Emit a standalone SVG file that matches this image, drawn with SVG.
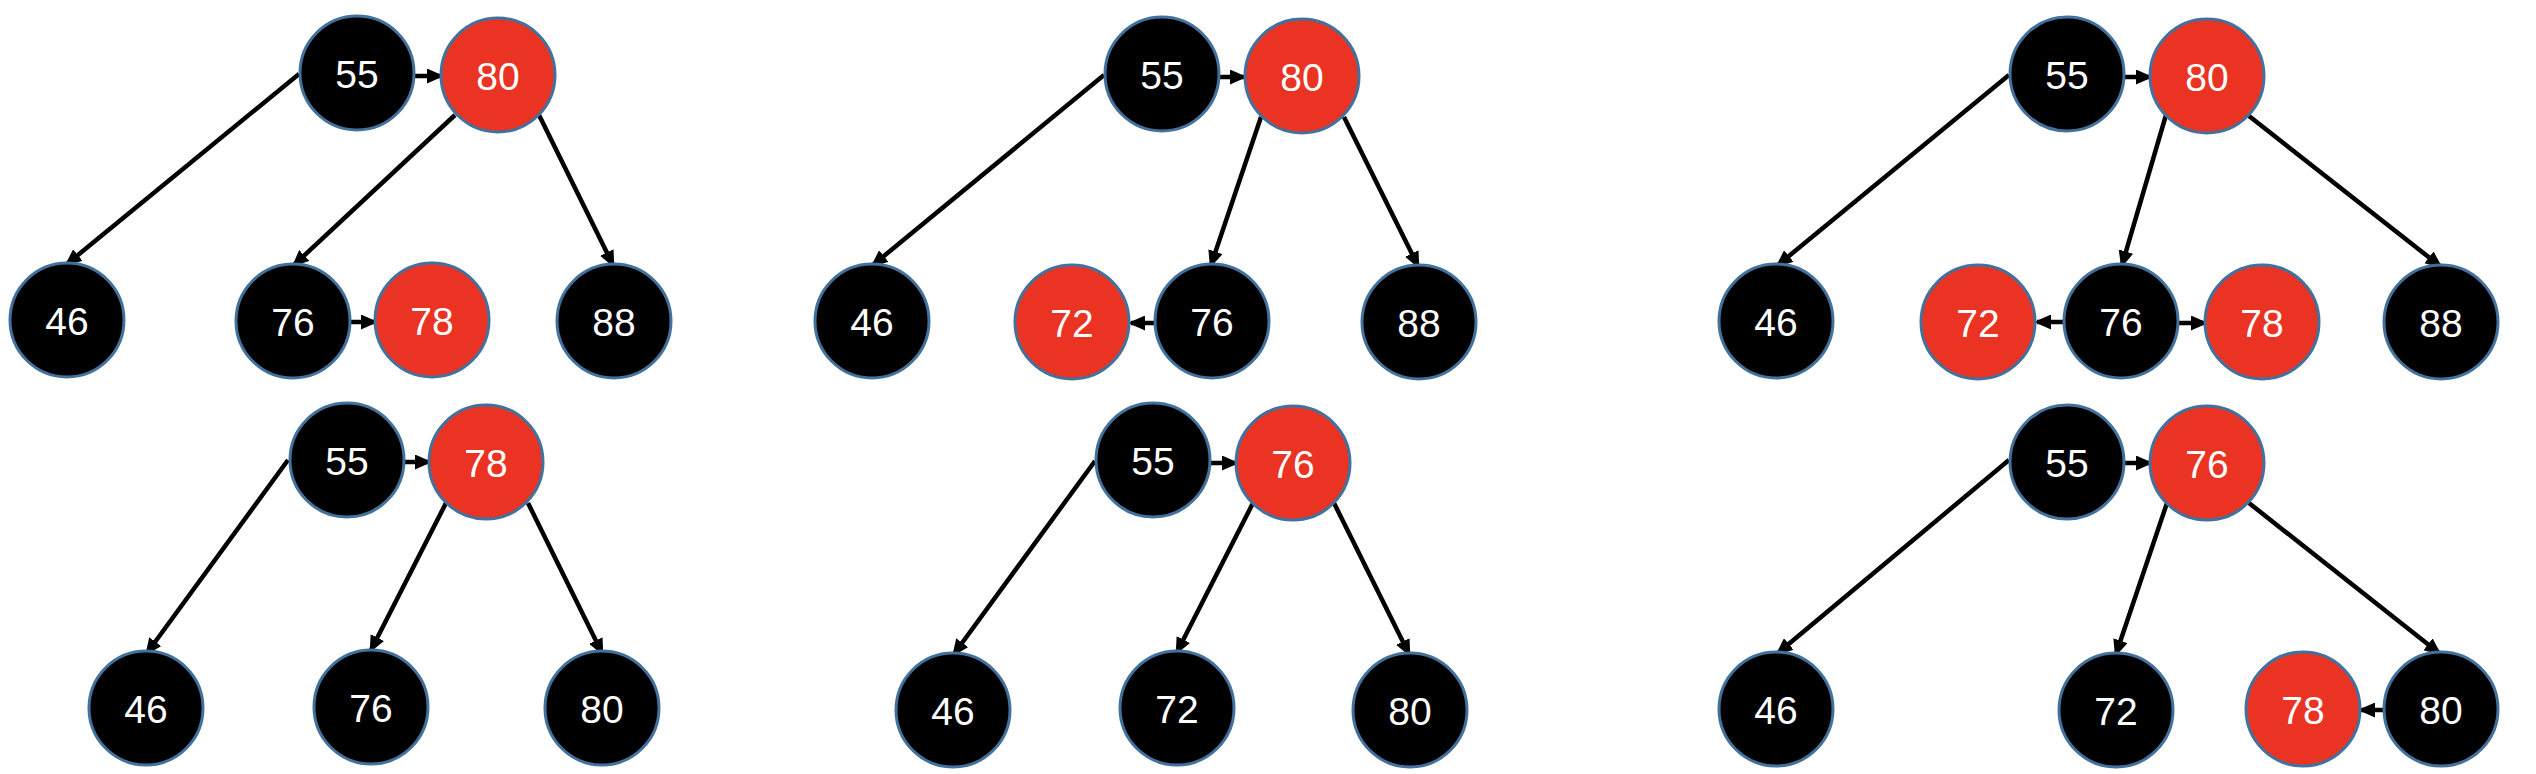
<svg xmlns="http://www.w3.org/2000/svg" width="2536" height="774" viewBox="0 0 2536 774">
<style>
.n circle{stroke:#41719C;stroke-width:3}
.b circle{fill:#000}
.r circle{fill:#EA3323}
.n text{fill:#fff;font-family:"Liberation Sans",Arial,sans-serif;font-size:39px;text-anchor:middle;dominant-baseline:central}
.e line{stroke:#000;stroke-width:4.5;marker-end:url(#ah)}
</style>
<defs>
<marker id="ah" markerUnits="userSpaceOnUse" markerWidth="17" markerHeight="15" refX="14" refY="7.5" orient="auto">
<path d="M0,0 L17,7.5 L0,15 z" fill="#000"/>
</marker>
</defs>
<rect width="2536" height="774" fill="#fff"/>

<g id="connectors" class="e">
<!-- tree 1 -->
<line x1="299" y1="74" x2="67" y2="264"/>
<line x1="414" y1="76" x2="441" y2="76"/>
<line x1="455" y1="115" x2="294" y2="265"/>
<line x1="539" y1="115" x2="613" y2="265"/>
<line x1="350" y1="322" x2="375" y2="322"/>
<!-- tree 2 -->
<line x1="288" y1="460" x2="147" y2="653"/>
<line x1="404" y1="462" x2="429" y2="462"/>
<line x1="446" y1="503" x2="371" y2="650"/>
<line x1="528" y1="503" x2="602" y2="653"/>
<!-- tree 3 -->
<line x1="1104" y1="75" x2="873" y2="265"/>
<line x1="1220" y1="77" x2="1244" y2="77"/>
<line x1="1261" y1="117" x2="1211" y2="265"/>
<line x1="1344" y1="117" x2="1418" y2="266"/>
<line x1="1154" y1="323" x2="1131" y2="323"/>
<!-- tree 4 -->
<line x1="1095" y1="461" x2="954" y2="654"/>
<line x1="1210" y1="463" x2="1236" y2="463"/>
<line x1="1253" y1="503" x2="1177" y2="652"/>
<line x1="1334" y1="503" x2="1409" y2="654"/>
<!-- tree 5 -->
<line x1="2009" y1="75" x2="1778" y2="265"/>
<line x1="2125" y1="77" x2="2150" y2="77"/>
<line x1="2166" y1="115" x2="2122" y2="265"/>
<line x1="2249" y1="116" x2="2440" y2="266"/>
<line x1="2064" y1="322" x2="2037" y2="322"/>
<line x1="2178" y1="323" x2="2205" y2="323"/>
<!-- tree 6 -->
<line x1="2009" y1="460" x2="1778" y2="653"/>
<line x1="2124" y1="463" x2="2150" y2="463"/>
<line x1="2167" y1="503" x2="2116" y2="654"/>
<line x1="2249" y1="503" x2="2439" y2="653"/>
<line x1="2384" y1="710" x2="2361" y2="710"/>
</g>

<!-- tree 1 -->
<g id="t1-55" class="n b"><circle cx="357" cy="73" r="57"/><text x="357" y="74">55</text></g>
<g id="t1-80" class="n r"><circle cx="498" cy="75" r="57"/><text x="498" y="76">80</text></g>
<g id="t1-46" class="n b"><circle cx="67" cy="320" r="57"/><text x="67" y="321">46</text></g>
<g id="t1-76" class="n b"><circle cx="293" cy="321" r="57"/><text x="293" y="322">76</text></g>
<g id="t1-78" class="n r"><circle cx="432" cy="320" r="57"/><text x="432" y="321">78</text></g>
<g id="t1-88" class="n b"><circle cx="614" cy="321" r="57"/><text x="614" y="322">88</text></g>

<!-- tree 2 -->
<g id="t2-55" class="n b"><circle cx="347" cy="460" r="57"/><text x="347" y="461">55</text></g>
<g id="t2-78" class="n r"><circle cx="486" cy="462" r="57"/><text x="486" y="463">78</text></g>
<g id="t2-46" class="n b"><circle cx="146" cy="708" r="57"/><text x="146" y="709">46</text></g>
<g id="t2-76" class="n b"><circle cx="371" cy="707" r="57"/><text x="371" y="708">76</text></g>
<g id="t2-80" class="n b"><circle cx="602" cy="708" r="57"/><text x="602" y="709">80</text></g>

<!-- tree 3 -->
<g id="t3-55" class="n b"><circle cx="1162" cy="74" r="57"/><text x="1162" y="75">55</text></g>
<g id="t3-80" class="n r"><circle cx="1302" cy="76" r="57"/><text x="1302" y="77">80</text></g>
<g id="t3-46" class="n b"><circle cx="872" cy="321" r="57"/><text x="872" y="322">46</text></g>
<g id="t3-72" class="n r"><circle cx="1072" cy="322" r="57"/><text x="1072" y="323">72</text></g>
<g id="t3-76" class="n b"><circle cx="1212" cy="321" r="57"/><text x="1212" y="322">76</text></g>
<g id="t3-88" class="n b"><circle cx="1419" cy="322" r="57"/><text x="1419" y="323">88</text></g>

<!-- tree 4 -->
<g id="t4-55" class="n b"><circle cx="1153" cy="460" r="57"/><text x="1153" y="461">55</text></g>
<g id="t4-76" class="n r"><circle cx="1293" cy="463" r="57"/><text x="1293" y="464">76</text></g>
<g id="t4-46" class="n b"><circle cx="953" cy="710" r="57"/><text x="953" y="711">46</text></g>
<g id="t4-72" class="n b"><circle cx="1177" cy="708" r="57"/><text x="1177" y="709">72</text></g>
<g id="t4-80" class="n b"><circle cx="1410" cy="710" r="57"/><text x="1410" y="711">80</text></g>

<!-- tree 5 -->
<g id="t5-55" class="n b"><circle cx="2067" cy="74" r="57"/><text x="2067" y="75">55</text></g>
<g id="t5-80" class="n r"><circle cx="2207" cy="76" r="57"/><text x="2207" y="77">80</text></g>
<g id="t5-46" class="n b"><circle cx="1776" cy="321" r="57"/><text x="1776" y="322">46</text></g>
<g id="t5-72" class="n r"><circle cx="1978" cy="322" r="57"/><text x="1978" y="323">72</text></g>
<g id="t5-76" class="n b"><circle cx="2121" cy="321" r="57"/><text x="2121" y="322">76</text></g>
<g id="t5-78" class="n r"><circle cx="2262" cy="322" r="57"/><text x="2262" y="323">78</text></g>
<g id="t5-88" class="n b"><circle cx="2441" cy="322" r="57"/><text x="2441" y="323">88</text></g>

<!-- tree 6 -->
<g id="t6-55" class="n b"><circle cx="2067" cy="462" r="57"/><text x="2067" y="463">55</text></g>
<g id="t6-76" class="n r"><circle cx="2207" cy="463" r="57"/><text x="2207" y="464">76</text></g>
<g id="t6-46" class="n b"><circle cx="1776" cy="709" r="57"/><text x="1776" y="710">46</text></g>
<g id="t6-72" class="n b"><circle cx="2116" cy="710" r="57"/><text x="2116" y="711">72</text></g>
<g id="t6-78" class="n r"><circle cx="2303" cy="709" r="57"/><text x="2303" y="710">78</text></g>
<g id="t6-80" class="n b"><circle cx="2441" cy="709" r="57"/><text x="2441" y="710">80</text></g>
</svg>
